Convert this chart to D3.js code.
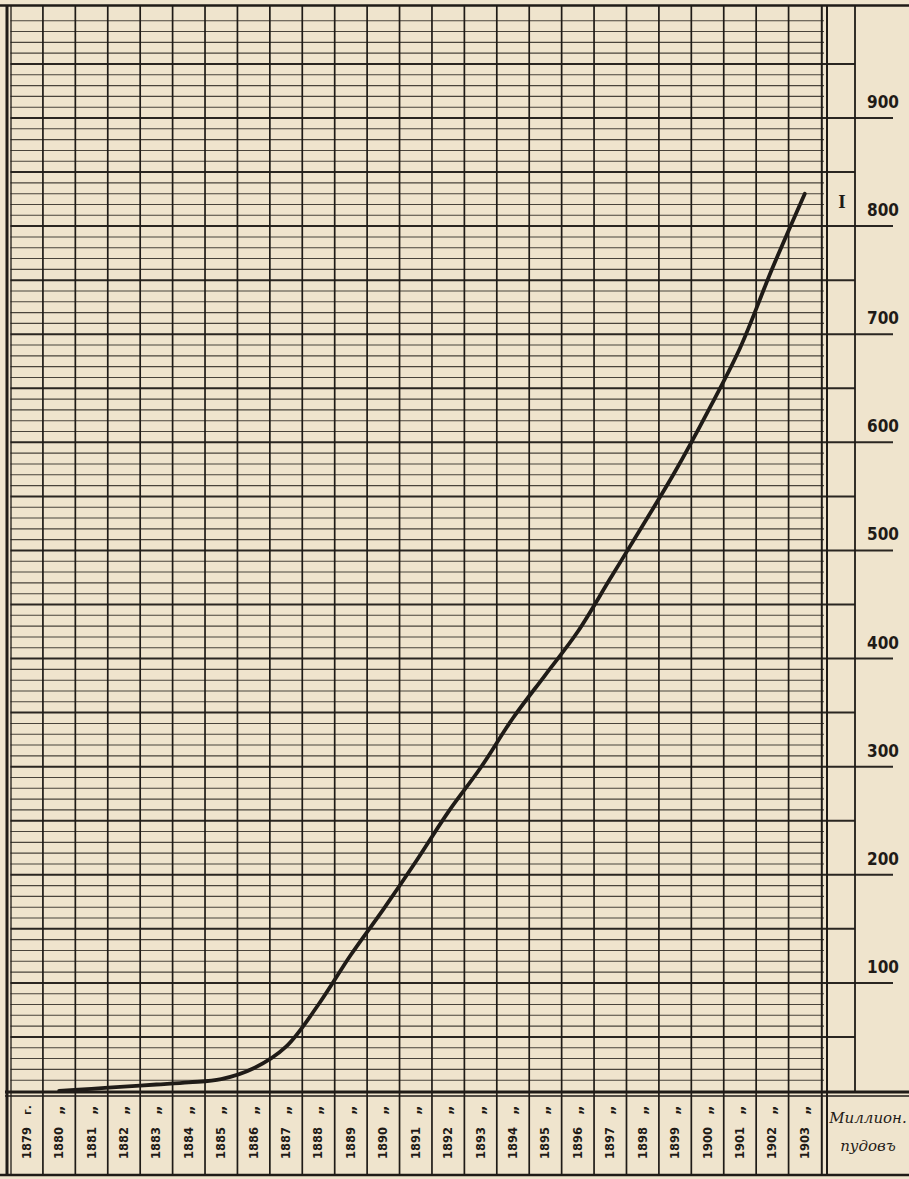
<!DOCTYPE html>
<html>
<head>
<meta charset="utf-8">
<script src="https://cdn.jsdelivr.net/npm/d3@7"></script>
<style>
  html, body { margin: 0; padding: 0; background: #efe4cd; }
  svg { display: block; }
</style>
</head>
<body>
<svg id="chart" width="909" height="1179"></svg>
<script>
// Years shown along the bottom strip
const years = [1879, 1880, 1881, 1882, 1883, 1884, 1885, 1886, 1887, 1888, 1889, 1890,
  1891, 1892, 1893, 1894, 1895, 1896, 1897, 1898, 1899, 1900, 1901, 1902, 1903];
// Mark after each year: "г." for the first, ditto for the rest
const yearMarks = years.map((y, i) => i === 0 ? "г." : "„");

// Curve I, million poods per year
const seriesYears = [1880, 1881, 1882, 1883, 1884, 1885, 1886, 1887, 1888, 1889, 1890,
  1891, 1892, 1893, 1894, 1895, 1896, 1897, 1898, 1899, 1900, 1901, 1902, 1903];
const seriesValues = [0, 2, 4, 6, 8, 11, 21, 41, 80, 126, 168, 212, 258, 299, 345,
  385, 425, 474, 523, 573, 628, 687, 761, 830];

// Right-hand scale labels
const yTicks = [100, 200, 300, 400, 500, 600, 700, 800, 900];
const unitLines = ["Миллион.", "пудовъ"];
const seriesName = "I";

const ink = "#1f1b17";
const svg = d3.select("#chart");

const x = d3.scaleBand().domain(years).range([10.5, 821]).paddingInner(0).paddingOuter(0);
const y = d3.scaleLinear().domain([0, 1000]).range([1091, 9.9]);

const frameTop = 5.5, frameBottom = 1175, axisY = y(0), rightInner = 855, tickEnd = 893;

// horizontal rulings: every 10, heavier every 50, 100s run out to the labels
const rules = d3.range(10, 1000, 10);
svg.append("g").selectAll("line").data(rules).join("line")
  .attr("x1", 10.5)
  .attr("x2", d => d % 100 === 0 ? tickEnd : d % 50 === 0 ? rightInner : 824)
  .attr("y1", d => y(d)).attr("y2", d => y(d))
  .attr("stroke", ink)
  .attr("stroke-opacity", d => d % 50 === 0 ? 0.95 : 0.8)
  .attr("stroke-width", d => d % 50 === 0 ? 2 : 1.1);

// vertical rulings between year columns
svg.append("g").selectAll("line").data(years.slice(1)).join("line")
  .attr("x1", d => x(d)).attr("x2", d => x(d))
  .attr("y1", frameTop).attr("y2", frameBottom)
  .attr("stroke", ink).attr("stroke-width", 1.7);

// frame
const frame = svg.append("g").attr("stroke", ink).attr("fill", "none");
frame.append("line").attr("x1", 0).attr("x2", 909).attr("y1", frameTop).attr("y2", frameTop).attr("stroke-width", 2.5);
frame.append("line").attr("x1", 0).attr("x2", 909).attr("y1", frameBottom).attr("y2", frameBottom).attr("stroke-width", 2.5);
frame.append("line").attr("x1", 7).attr("x2", 7).attr("y1", frameTop).attr("y2", frameBottom).attr("stroke-width", 3);
frame.append("line").attr("x1", 11).attr("x2", 11).attr("y1", frameTop).attr("y2", frameBottom).attr("stroke-width", 1.3);
frame.append("line").attr("x1", 821.8).attr("x2", 821.8).attr("y1", frameTop).attr("y2", frameBottom).attr("stroke-width", 2);
frame.append("line").attr("x1", 827).attr("x2", 827).attr("y1", frameTop).attr("y2", frameBottom).attr("stroke-width", 2);
frame.append("line").attr("x1", rightInner).attr("x2", rightInner).attr("y1", frameTop).attr("y2", axisY).attr("stroke-width", 1.8);
frame.append("line").attr("x1", 5).attr("x2", 909).attr("y1", axisY + 1).attr("y2", axisY + 1).attr("stroke-width", 3.2);
frame.append("line").attr("x1", 5).attr("x2", 909).attr("y1", axisY + 5).attr("y2", axisY + 5).attr("stroke-width", 1.3);

// the curve
const line = d3.line()
  .x((d, i) => x(seriesYears[i]) + x.bandwidth() / 2)
  .y(d => y(d))
  .curve(d3.curveCatmullRom.alpha(0.5));
svg.append("path").datum(seriesValues)
  .attr("d", line)
  .attr("fill", "none").attr("stroke", ink)
  .attr("stroke-width", 3.8).attr("stroke-linejoin", "round").attr("stroke-linecap", "round");

// right scale numbers
svg.append("g").selectAll("text").data(yTicks).join("text")
  .attr("x", 883).attr("y", d => y(d) - 10)
  .attr("text-anchor", "middle")
  .attr("font-family", "'DejaVu Sans Condensed', 'DejaVu Sans', sans-serif")
  .attr("font-stretch", "condensed")
  .attr("font-weight", "bold").attr("font-size", 17)
  .attr("fill", ink)
  .text(d => d);

// series marker next to the end of the curve
svg.append("text")
  .attr("x", 842).attr("y", y(800) - 18)
  .attr("text-anchor", "middle")
  .attr("font-family", "'Liberation Serif', serif").attr("font-weight", "bold").attr("font-size", 19)
  .attr("fill", ink).text(seriesName);

// year labels, rotated
const labels = svg.append("g")
  .attr("font-family", "'DejaVu Sans', sans-serif")
  .attr("font-weight", "bold").attr("fill", ink);
labels.selectAll("text.yr").data(years).join("text")
  .attr("class", "yr")
  .attr("font-size", 11.5)
  .attr("transform", d => `translate(${x(d) + x.bandwidth() / 2 + 4},1143) rotate(-90)`)
  .attr("text-anchor", "middle")
  .text(d => d);
labels.selectAll("text.mk").data(years).join("text")
  .attr("class", "mk")
  .attr("font-size", (d, i) => i === 0 ? 11 : 15)
  .attr("transform", d => `translate(${x(d) + x.bandwidth() / 2 + 4},1110) rotate(-90)`)
  .attr("text-anchor", "middle")
  .text((d, i) => yearMarks[i]);

// unit caption
svg.append("g").selectAll("text").data(unitLines).join("text")
  .attr("x", 868).attr("y", (d, i) => 1123 + i * 28)
  .attr("text-anchor", "middle")
  .attr("font-family", "'DejaVu Serif', serif").attr("font-style", "italic")
  .attr("font-size", 15).attr("fill", ink)
  .text(d => d);
</script>
</body>
</html>
